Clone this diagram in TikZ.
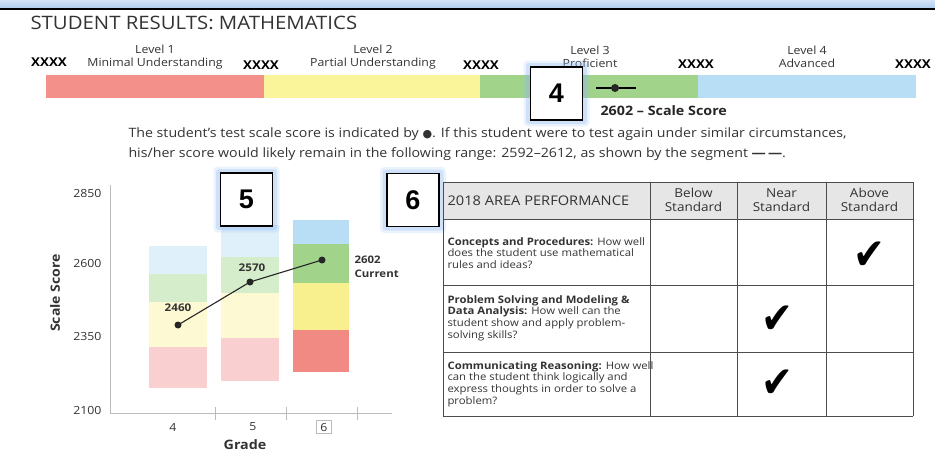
\documentclass[tikz,border=0pt]{standalone}
\usepackage{fontspec}
\setmainfont{Open Sans}[FakeStretch=1.1]
\newfontfamily\dejavu{DejaVu Sans}
\newfontfamily\libsans{Liberation Sans}
\definecolor{lvred}{HTML}{F4908A}
\definecolor{lvyel}{HTML}{FAF59A}
\definecolor{lvgreen}{HTML}{A2D38A}
\definecolor{lvblue}{HTML}{B7DEF5}
\definecolor{ltblue}{HTML}{DFF0FA}
\definecolor{ltgreen}{HTML}{D6EDCB}
\definecolor{ltyel}{HTML}{FDFAD3}
\definecolor{ltred}{HTML}{F9D0CF}
\definecolor{gyel}{HTML}{F8F08E}
\definecolor{gred}{HTML}{F28A84}
\definecolor{txt}{HTML}{333333}
\definecolor{axisgray}{HTML}{BBBBBB}
\definecolor{tblgray}{HTML}{E6E6E6}
\definecolor{glow}{HTML}{8DB8F0}
\definecolor{topblue}{HTML}{B3CFEF}
\begin{document}
\begin{tikzpicture}[x=1pt,y=-1pt,
  lvl/.style={text=txt,font=\fontsize{11.2}{13.5}\selectfont,align=center},
  xx/.style={font=\bfseries\fontsize{12.2}{12}\selectfont},
  numbox/.style={draw=black,line width=1.6pt,fill=white,minimum width=52pt,minimum height=53pt,inner sep=0pt,font=\libsans\bfseries\fontsize{27}{27}\selectfont},
  cell/.style={draw=black!70,line width=0.6pt},
  body/.style={anchor=west,align=left,text=txt,font=\fontsize{10.3}{11.7}\selectfont},
  hdr/.style={align=center,text=txt,font=\fontsize{12.3}{14.5}\selectfont},
  chk/.style={font=\dejavu\fontsize{38}{38}\selectfont,yscale=1.15},
  clabel/.style={text=txt,font=\bfseries\fontsize{10.6}{12}\selectfont},
  axlab/.style={text=txt,font=\fontsize{11.2}{12}\selectfont},
  para/.style={anchor=west,text=txt,font=\fontsize{12.9}{15}\selectfont},
  dot/.style={circle,fill=black!85,inner sep=0pt,minimum size=7pt}
]
\useasboundingbox (0,0) rectangle (935,455);
% top band
\shade[top color=topblue!60,bottom color=topblue] (0,0) rectangle (935,7.5);
\fill[black] (0,7.5) rectangle (935,9.5);
% title
\node[anchor=west,text=txt,font=\fontsize{18.5}{20}\selectfont] (title) at (27,23) {STUDENT RESULTS: MATHEMATICS};
% level labels
\node[lvl] (l1) at (155,57) {Level 1\\Minimal Understanding};
\node[lvl] (l2) at (373,57) {Level 2\\Partial Understanding};
\node[lvl] (l3) at (590,57) {Level 3\\Proficient};
\node[lvl] (l4) at (807,57) {Level 4\\Advanced};
\node[xx] (x0) at (49,62) {XXXX};
\node[xx] (x1) at (261,65) {XXXX};
\node[xx] (x2) at (481,65) {XXXX};
\node[xx] (x3) at (696,64) {XXXX};
\node[xx] (x4) at (913,64) {XXXX};
% level bar
\fill[lvred] (46,75) rectangle (264,98);
\fill[lvyel] (264,75) rectangle (480,98);
\fill[lvgreen] (480,75) rectangle (698,98);
\fill[lvblue] (698,75) rectangle (916,98);
\coordinate (sl) at (596,88);
\coordinate (sr) at (636,88);
\draw[line width=1.3pt] (sl) -- (sr);
\node[dot,minimum size=8pt] (sdot) at (615,88) {};
\node[anchor=west,text=black!85,font=\bfseries\fontsize{13}{13}\selectfont] (ss) at (597,111) {2602 -- Scale Score};
% glow boxes
\foreach \n/\cx/\cy/\lab in {b4/556.5/93.5/4, b6/413/200/6}{
  \fill[glow,opacity=0.18,rounded corners=4pt] (\cx-33,\cy-33) rectangle (\cx+33,\cy+33);
  \fill[glow,opacity=0.3,rounded corners=3pt] (\cx-30.5,\cy-30.5) rectangle (\cx+30.5,\cy+30.5);
  \node[numbox] (\n) at (\cx,\cy) {\lab};
}
% paragraph
\node[para] (p1) at (125,134) {The student’s test scale score is indicated by\ {\dejavu\fontsize{11}{11}\selectfont●}. If this student were to test again under similar circumstances,};
\node[para] (p2) at (125,154) {his/her score would likely remain in the following range: 2592–2612, as shown by the segment \textbf{—\,—}.};
% chart bars
\fill[ltblue] (149,246) rectangle (207,274);
\fill[ltgreen] (149,274) rectangle (207,302);
\fill[ltyel] (149,302) rectangle (207,347);
\fill[ltred] (149,347) rectangle (207,388);
\fill[ltblue] (221,225) rectangle (279,257);
\fill[ltgreen] (221,257) rectangle (279,293);
\fill[ltyel] (221,293) rectangle (279,338);
\fill[ltred] (221,338) rectangle (279,381);
\fill[lvblue] (293,220) rectangle (349,244);
\fill[lvgreen] (293,244) rectangle (349,283);
\fill[gyel] (293,283) rectangle (349,330);
\fill[gred] (293,330) rectangle (349,372);
% box 5 over bar
\fill[glow,opacity=0.18,rounded corners=4pt] (246.5-33,199.5-33) rectangle (246.5+33,199.5+33);
\fill[glow,opacity=0.3,rounded corners=3pt] (246.5-30.5,199.5-30.5) rectangle (246.5+30.5,199.5+30.5);
\node[numbox] (b5) at (246.5,199.5) {5};
% axes
\coordinate (ytop) at (110,185);
\coordinate (orig) at (110,413);
\coordinate (xend) at (392,413);
\draw[axisgray,line width=0.8pt] (ytop) -- (orig) -- (xend);
\foreach \tx in {215,286,357}{\draw[axisgray,line width=0.8pt] (\tx,407) -- (\tx,420);}
\foreach \v/\yy in {2850/193,2600/263,2350/336,2100/410}{
  \node[axlab,anchor=east] at (105,\yy) {\v};
}
\node[rotate=90,text=txt,font=\bfseries\fontsize{12.8}{13}\selectfont] (ylab) at (55,293) {Scale Score};
\node[axlab] (g4) at (173,427) {4};
\node[axlab] (g5) at (253,427) {5};
\node[axlab,draw=axisgray,line width=1pt,inner sep=2pt,minimum width=15pt,minimum height=13pt] (g6) at (324,427) {6};
\node[text=txt,font=\bfseries\fontsize{13}{13}\selectfont] (xlab) at (245,445) {Grade};
% score line
\node[dot] (d4) at (178,325) {};
\node[dot] (d5) at (250,282) {};
\node[dot] (d6) at (322,260) {};
\draw[black!85,line width=1.1pt] (d4.center) -- (d5.center) -- (d6.center);
\node[clabel] (t4) at (178,308) {2460};
\node[clabel] (t5) at (252,268) {2570};
\node[clabel,anchor=west,align=left,font=\bfseries\fontsize{10.4}{13.5}\selectfont] (t6) at (351,267) {2602\\Current};
% table
\fill[tblgray] (443,182) rectangle (913,219);
\foreach \x in {443,650,737,826,913}{\draw[cell] (\x,182) -- (\x,416);}
\foreach \y in {182,219,285,352,416}{\draw[cell] (443,\y) -- (913,\y);}
\node[anchor=west,text=txt,font=\fontsize{13.3}{14}\selectfont] (h0) at (444,201) {2018 AREA PERFORMANCE};
\node[hdr] (h1) at (693.5,200) {Below\\Standard};
\node[hdr] (h2) at (781.5,200) {Near\\Standard};
\node[hdr] (h3) at (869.5,200) {Above\\Standard};
\node[body] (r1) at (444,253) {\textbf{Concepts and Procedures:} How well\\does the student use mathematical\\rules and ideas?};
\node[body] (r2) at (444,318) {\textbf{Problem Solving and Modeling \&}\\\textbf{Data Analysis:} How well can the\\student show and apply problem-\\solving skills?};
\node[body] (r3) at (444,384) {\textbf{Communicating Reasoning:} How well\\can the student think logically and\\express thoughts in order to solve a\\problem?};
\node[chk] (c1) at (869,256) {✔};
\node[chk] (c2) at (777,320) {✔};
\node[chk] (c3) at (777,384) {✔};
\end{tikzpicture}
\end{document}
